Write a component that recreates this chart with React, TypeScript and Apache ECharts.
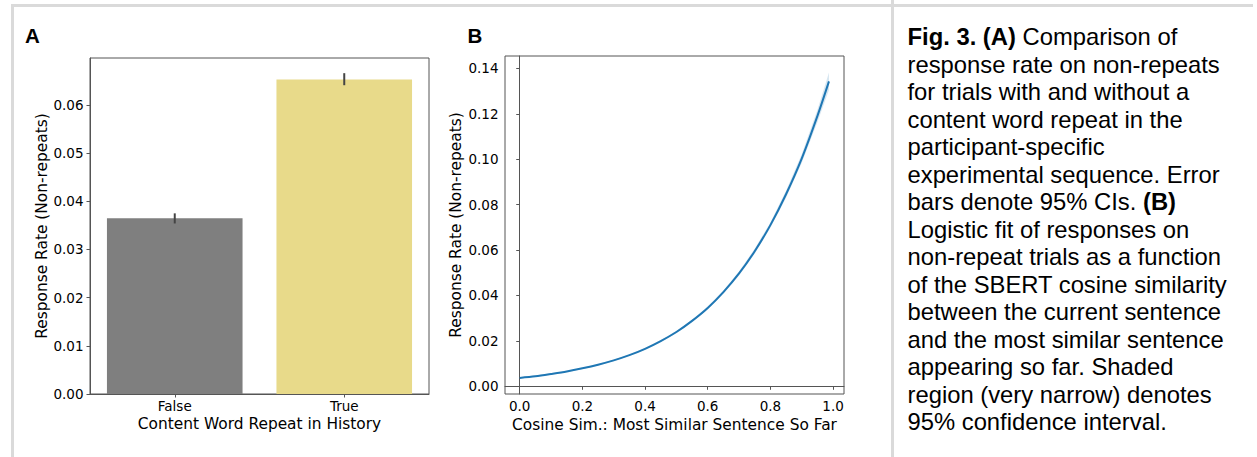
import React, { useEffect, useRef } from "react";
import * as echarts from "echarts";

// ---- Panel A data ----
const categoriesA = ["False", "True"];
const barValuesA = [0.0365, 0.0653];
const errLowA = [0.0354, 0.0641];
const errHighA = [0.0375, 0.0666];
const yTicksA = [0, 0.01, 0.02, 0.03, 0.04, 0.05, 0.06];

// ---- Panel B data ----
const simX = [0.0, 0.05, 0.1, 0.15, 0.2, 0.25, 0.3, 0.35, 0.4, 0.45, 0.5, 0.55, 0.6, 0.65, 0.7, 0.75, 0.8, 0.85, 0.9, 0.95, 0.987];
const simRate = [0.0037, 0.0044, 0.0054, 0.0065, 0.0079, 0.0095, 0.0114, 0.0137, 0.0165, 0.0199, 0.0239, 0.0288, 0.0345, 0.0415, 0.0497, 0.0595, 0.071, 0.0846, 0.1003, 0.119, 0.1343];
const ciLower = [0.0034, 0.0041, 0.0051, 0.0062, 0.0076, 0.0092, 0.0111, 0.0134, 0.0161, 0.0195, 0.0234, 0.0283, 0.0339, 0.0408, 0.0488, 0.0584, 0.0698, 0.0831, 0.0984, 0.1163, 0.1305];
const ciUpper = [0.004, 0.0047, 0.0057, 0.0068, 0.0082, 0.0098, 0.0117, 0.014, 0.0169, 0.0203, 0.0244, 0.0293, 0.0351, 0.0422, 0.0506, 0.0606, 0.0722, 0.0861, 0.1022, 0.1217, 0.1382];
const xTicksB = [0, 0.2, 0.4, 0.6, 0.8, 1.0];
const yTicksB = [0, 0.02, 0.04, 0.06, 0.08, 0.1, 0.12, 0.14];

// ---- Caption ----
const captionLines = [
  "{b|Fig. 3. (A)} Comparison of",
  "response rate on non-repeats",
  "for trials with and without a",
  "content word repeat in the",
  "participant-specific",
  "experimental sequence. Error",
  "bars denote 95% CIs. {b|(B)}",
  "Logistic fit of responses on",
  "non-repeat trials as a function",
  "of the SBERT cosine similarity",
  "between the current sentence",
  "and the most similar sentence",
  "appearing so far. Shaded",
  "region (very narrow) denotes",
  "95% confidence interval.",
];

const MPL_FONT = "DejaVu Sans";
const SPINE = "#555555";
const TICK_FS = 13.5;
const LABEL_FS = 15.4;
const CAP_FS = 23.8;

export default function App() {
  const ref = useRef<HTMLDivElement>(null);

  useEffect(() => {
    if (!ref.current) return;
    const chart = echarts.init(ref.current, undefined, { renderer: "svg" });

    const axisCommon = {
      axisLine: { show: true, lineStyle: { color: SPINE, width: 1 } },
      splitLine: { show: false },
    };

    const graphics: any[] = [];
    // frame lines
    graphics.push({ type: "rect", shape: { x: 11, y: 4, width: 1242, height: 3 }, style: { fill: "#dadada" }, silent: true });
    graphics.push({ type: "rect", shape: { x: 11, y: 4, width: 3, height: 453 }, style: { fill: "#dadada" }, silent: true });
    graphics.push({ type: "rect", shape: { x: 891, y: 0, width: 3, height: 457 }, style: { fill: "#dadada" }, silent: true });
    // panel letters
    graphics.push({ type: "text", x: 25, y: 35, style: { text: "A", fontFamily: "Liberation Sans", fontWeight: "bold", fontSize: 20.5, fill: "#000", textVerticalAlign: "middle" } });
    graphics.push({ type: "text", x: 467.5, y: 35, style: { text: "B", fontFamily: "Liberation Sans", fontWeight: "bold", fontSize: 20.5, fill: "#000", textVerticalAlign: "middle" } });
    // axis titles
    const title = (text: string, x: number, y: number, rot: number) => ({
      type: "text",
      x,
      y,
      rotation: rot,
      style: { text, fontFamily: MPL_FONT, fontSize: LABEL_FS, fill: "#000", textAlign: "center", textVerticalAlign: "middle" },
    });
    graphics.push(title("Response Rate (Non-repeats)", 42, 226, Math.PI / 2));
    graphics.push(title("Content Word Repeat in History", 259.5, 424, 0));
    graphics.push(title("Response Rate (Non-repeats)", 456, 225, Math.PI / 2));
    graphics.push(title("Cosine Sim.: Most Similar Sentence So Far", 674.5, 425, 0));
    // caption
    captionLines.forEach((line, i) => {
      graphics.push({
        type: "text",
        x: 907.5,
        y: 36.7 + 27.5 * i,
        style: {
          text: line,
          fontFamily: "Liberation Sans",
          fontSize: CAP_FS,
          fill: "#000",
          textVerticalAlign: "middle",
          rich: {
            b: { fontFamily: "Liberation Sans", fontSize: CAP_FS, fontWeight: "bold", fill: "#000" },
          },
        },
      });
    });

    const bandData = simX.map((x, i) => [x, ciLower[i], ciUpper[i]]);

    chart.setOption({
      animation: false,
      backgroundColor: "#ffffff",
      textStyle: { fontFamily: MPL_FONT },
      grid: [
        { left: 90, top: 58, width: 339, height: 336, show: true, borderColor: SPINE, borderWidth: 1, containLabel: false },
        { left: 505, top: 56, width: 339, height: 338, show: true, borderColor: SPINE, borderWidth: 1, containLabel: false },
      ],
      xAxis: [
        {
          gridIndex: 0,
          type: "category",
          data: categoriesA,
          boundaryGap: true,
          ...axisCommon,
          axisTick: { show: true, length: 3.5, alignWithLabel: true, lineStyle: { color: SPINE, width: 1 } },
          axisLabel: { fontFamily: MPL_FONT, fontSize: TICK_FS, color: "#000", margin: 5 },
        },
        {
          gridIndex: 1,
          type: "value",
          min: -0.047,
          max: 1.035,
          ...axisCommon,
          axisTick: { show: true, length: 3.5, customValues: xTicksB, lineStyle: { color: SPINE, width: 1 } },
          axisLabel: {
            fontFamily: MPL_FONT,
            fontSize: TICK_FS,
            color: "#000",
            margin: 5,
            customValues: xTicksB,
            formatter: (v: number) => v.toFixed(1),
          },
        },
      ],
      yAxis: [
        {
          gridIndex: 0,
          type: "value",
          min: 0,
          max: 0.06975,
          ...axisCommon,
          axisTick: { show: true, length: 3.5, customValues: yTicksA, lineStyle: { color: SPINE, width: 1 } },
          axisLabel: {
            fontFamily: MPL_FONT,
            fontSize: TICK_FS,
            color: "#000",
            margin: 6.5,
            customValues: yTicksA,
            formatter: (v: number) => v.toFixed(2),
          },
        },
        {
          gridIndex: 1,
          type: "value",
          min: -0.0034,
          max: 0.1455,
          ...axisCommon,
          axisTick: { show: true, length: 3.5, customValues: yTicksB, lineStyle: { color: SPINE, width: 1 } },
          axisLabel: {
            fontFamily: MPL_FONT,
            fontSize: TICK_FS,
            color: "#000",
            margin: 6.5,
            customValues: yTicksB,
            formatter: (v: number) => v.toFixed(2),
          },
        },
      ],
      series: [
        {
          type: "bar",
          xAxisIndex: 0,
          yAxisIndex: 0,
          barWidth: "80%",
          data: barValuesA.map((v, i) => ({
            value: v,
            itemStyle: { color: i === 0 ? "#7f7f7f" : "#e8da8a" },
          })),
        },
        {
          type: "custom",
          xAxisIndex: 0,
          yAxisIndex: 0,
          data: categoriesA.map((_, i) => [i, errLowA[i], errHighA[i]]),
          encode: { x: 0, y: [1, 2] },
          z: 5,
          renderItem: (params: any, api: any) => {
            const idx = api.value(0);
            const p1 = api.coord([idx, api.value(1)]);
            const p2 = api.coord([idx, api.value(2)]);
            return {
              type: "line",
              shape: { x1: p1[0], y1: p1[1], x2: p2[0], y2: p2[1] },
              style: { stroke: "#444444", lineWidth: 2 },
            };
          },
        },
        {
          type: "custom",
          xAxisIndex: 1,
          yAxisIndex: 1,
          data: bandData,
          encode: { x: 0, y: [1, 2] },
          z: 1,
          renderItem: (params: any, api: any) => {
            if (params.dataIndex !== 0) return null;
            const pts: number[][] = [];
            for (let i = 0; i < bandData.length; i++) pts.push(api.coord([bandData[i][0], bandData[i][2]]));
            for (let i = bandData.length - 1; i >= 0; i--) pts.push(api.coord([bandData[i][0], bandData[i][1]]));
            return {
              type: "polygon",
              shape: { points: pts, smooth: 0 },
              style: { fill: "rgba(31,119,180,0.18)", stroke: "none" },
            };
          },
        },
        {
          type: "line",
          xAxisIndex: 1,
          yAxisIndex: 1,
          data: simX.map((x, i) => [x, simRate[i]]),
          showSymbol: false,
          smooth: 0.3,
          lineStyle: { color: "#1f77b4", width: 2 },
          z: 3,
        },
      ],
      graphic: graphics,
    });

    return () => chart.dispose();
  }, []);

  return (
    <div
      ref={ref}
      style={{ position: "absolute", left: 0, top: 0, width: 1257, height: 457 }}
    />
  );
}
